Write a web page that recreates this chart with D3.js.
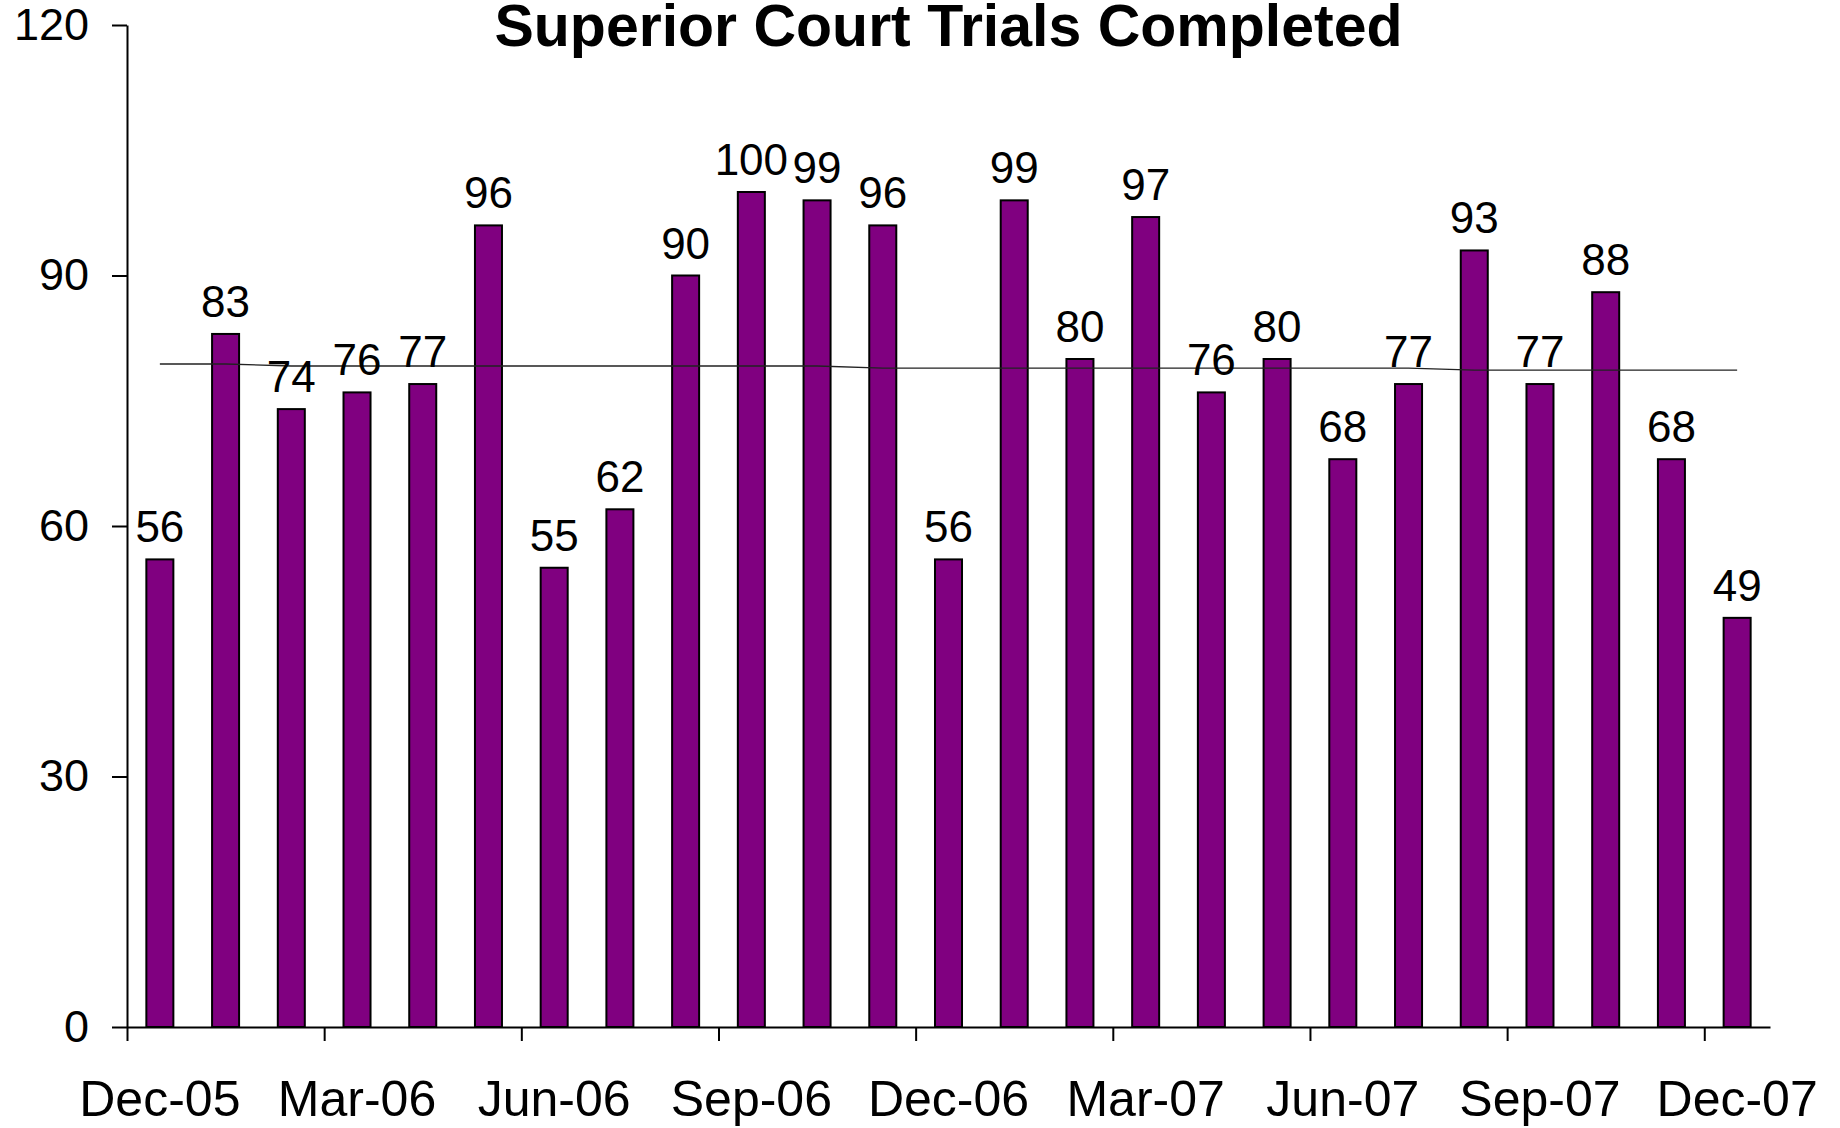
<!DOCTYPE html>
<html>
<head>
<meta charset="utf-8">
<script src="https://cdn.jsdelivr.net/npm/d3@7"></script>
<style>
  html, body { margin: 0; padding: 0; background: #fff; }
  svg { display: block; }
</style>
</head>
<body>
<svg id="chart" width="1840" height="1128"></svg>
<script>
const months = ["Dec-05","Jan-06","Feb-06","Mar-06","Apr-06","May-06","Jun-06","Jul-06","Aug-06","Sep-06","Oct-06","Nov-06",
                "Dec-06","Jan-07","Feb-07","Mar-07","Apr-07","May-07","Jun-07","Jul-07","Aug-07","Sep-07","Oct-07","Nov-07","Dec-07"];
const trials = [56,83,74,76,77,96,55,62,90,100,99,96,56,99,80,97,76,80,68,77,93,77,88,68,49];
const average = [79.4,79.4,79.16,79.16,79.16,79.16,79.16,79.16,79.16,79.16,79.16,78.9,78.9,78.9,78.9,78.9,78.9,78.9,78.9,78.9,78.67,78.67,78.67,78.67,78.67];
const tickLabels = ["Dec-05","Mar-06","Jun-06","Sep-06","Dec-06","Mar-07","Jun-07","Sep-07","Dec-07"];
const yTicks = [0,30,60,90,120];
const title = "Superior Court Trials Completed";

(function () {
const FONT = "'Liberation Sans', Arial, Helvetica, sans-serif";
const svg = d3.select("#chart");
svg.append("rect").attr("width",1840).attr("height",1128).attr("fill","#fff");

const plotL = 127, plotR = 1770, plotT = 25, plotB = 1027;

const xBand = d3.scaleBand().domain(months).range([plotL, plotR]).paddingInner(0.589).paddingOuter(0.2945);
const xEdge = d3.scaleLinear().domain([0, months.length]).range([plotL, plotR]);
const y = d3.scaleLinear().domain([0, 120]).range([plotB, plotT]);
const bw = xBand.bandwidth();

// bars
svg.append("g").selectAll("rect").data(trials).join("rect")
  .attr("x", (d,i) => xBand(months[i]))
  .attr("y", d => y(d))
  .attr("width", bw)
  .attr("height", d => y(0) - y(d))
  .attr("fill", "#800080")
  .attr("stroke", "#000")
  .attr("stroke-width", 2);

// average line
svg.append("path").datum(average)
  .attr("fill","none").attr("stroke","#222").attr("stroke-width",1.3)
  .attr("d", d3.line().x((d,i) => xBand(months[i]) + bw/2).y(d => y(d)));

// y axis
const yAxis = svg.append("g").attr("transform", `translate(${plotL},0)`)
  .call(d3.axisLeft(y).tickValues(yTicks).tickSize(15).tickSizeOuter(0).tickPadding(23).tickFormat(d3.format("d")));
yAxis.select(".domain").attr("stroke","#000").attr("stroke-width",2);
yAxis.selectAll(".tick line").attr("stroke","#000").attr("stroke-width",2);
yAxis.selectAll(".tick text").attr("font-family",FONT).attr("font-size",45).attr("fill","#000");

// x axis
const tickIdx = tickLabels.map(l => months.indexOf(l));
const xAxis = svg.append("g").attr("transform", `translate(0,${plotB})`)
  .call(d3.axisBottom(xEdge).tickValues(tickIdx).tickSize(14).tickSizeOuter(0).tickFormat(""));
xAxis.select(".domain").attr("stroke","#000").attr("stroke-width",2);
xAxis.selectAll(".tick line").attr("stroke","#000").attr("stroke-width",2);

svg.append("g").selectAll("text").data(tickLabels).join("text")
  .attr("x", d => xBand(d) + bw/2)
  .attr("y", 1116)
  .attr("text-anchor","middle")
  .attr("font-family",FONT).attr("font-size",50).attr("fill","#000")
  .text(d => d);

// data labels
svg.append("g").selectAll("text").data(trials).join("text")
  .attr("x", (d,i) => xBand(months[i]) + bw/2)
  .attr("y", d => y(d) - 17)
  .attr("text-anchor","middle")
  .attr("font-family",FONT).attr("font-size",44).attr("fill","#000")
  .text(d => d);

// title
svg.append("text")
  .attr("x", (plotL + plotR)/2).attr("y", 46)
  .attr("text-anchor","middle")
  .attr("font-family",FONT).attr("font-size",59).attr("font-weight","bold").attr("fill","#000")
  .text(title);
})();
</script>
</body>
</html>
